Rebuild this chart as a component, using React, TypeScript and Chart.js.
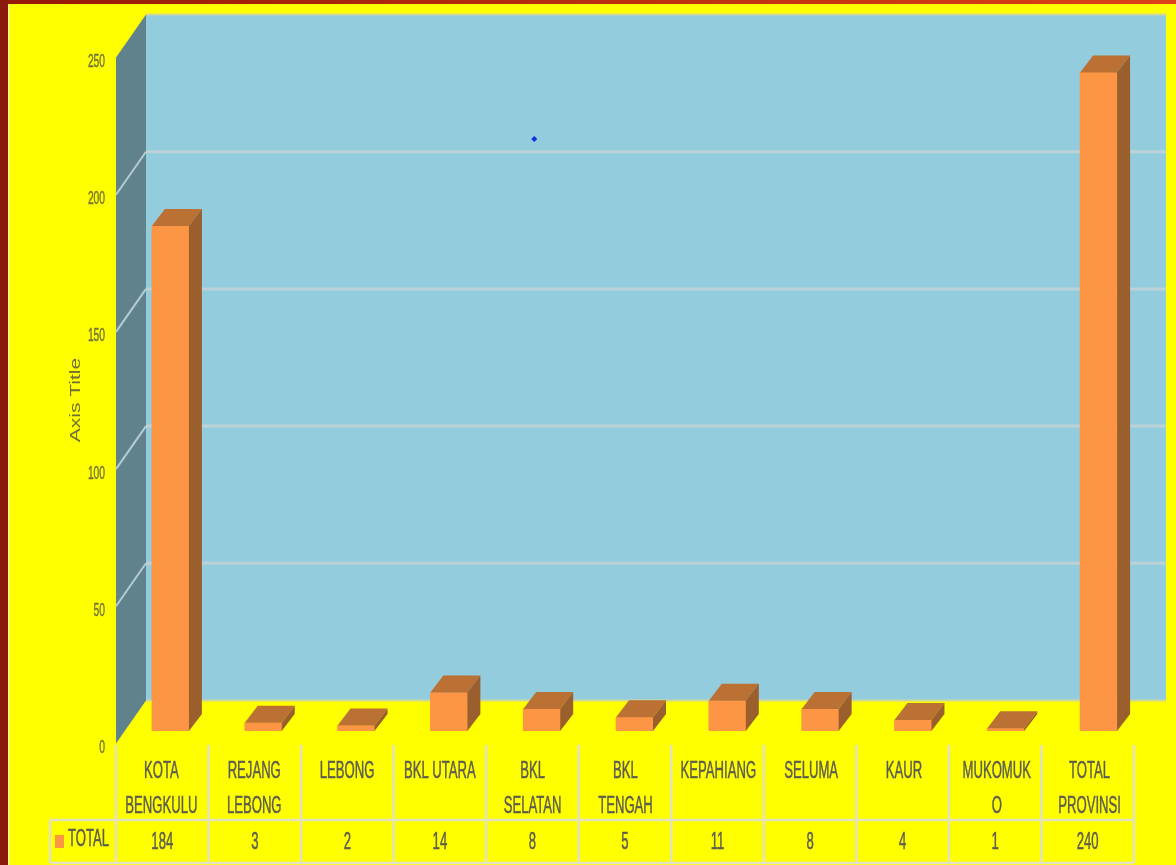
import React, { useEffect, useRef } from "react";
import { Chart, registerables } from "chart.js";

Chart.register(...registerables);

const categories: (string | string[])[] = [
  ["KOTA", "BENGKULU"], ["REJANG", "LEBONG"], "LEBONG", "BKL UTARA", ["BKL", "SELATAN"],
  ["BKL", "TENGAH"], "KEPAHIANG", "SELUMA", "KAUR", ["MUKOMUK", "O"], ["TOTAL", "PROVINSI"],
];
const totals = [184, 3, 2, 14, 8, 5, 11, 8, 4, 1, 240];
const seriesName = "TOTAL";
const strayPoint = [{ x: 4.42, y: 215.7 }];
const yTicks = [0, 50, 100, 150, 200, 250];
const axisTitle = "Axis Title";

const FONT = '"Liberation Sans", sans-serif';
const SQUEEZE = 0.57;
const DEPTH_Y = 43;
const BAR_DX = 13, BAR_DY = 17;

function poly(ctx: CanvasRenderingContext2D, pts: number[][], fill: string) {
  ctx.beginPath();
  pts.forEach((p, i) => (i ? ctx.lineTo(p[0], p[1]) : ctx.moveTo(p[0], p[1])));
  ctx.closePath();
  ctx.fillStyle = fill;
  ctx.fill();
}

// The reference's lettering is squeezed sideways and heavy; every label is narrowed about its own anchor.
function squeezeText(ctx: any) {
  const raw = ctx.fillText.bind(ctx);
  const rawStroke = ctx.strokeText.bind(ctx);
  ctx.rawFillText = raw;
  ctx.fillText = (t: string, x: number, y: number) => {
    ctx.save();
    ctx.translate(x, y);
    ctx.scale(SQUEEZE, 1);
    raw(t, 0, 0);
    ctx.strokeStyle = ctx.fillStyle;
    ctx.lineWidth = 0.5;
    rawStroke(t, 0, 0);
    ctx.restore();
  };
}

const scene3d = {
  id: "scene3d",
  beforeDraw(chart: any) {
    const { ctx, width, height } = chart;
    if (!ctx.rawFillText) squeezeText(ctx);
    ctx.save();
    ctx.fillStyle = "#ffff00";
    ctx.fillRect(0, 0, width, height);
    const top = ctx.createLinearGradient(0, 0, width, 0);
    top.addColorStop(0, "#941a08");
    top.addColorStop(1, "#dc4218");
    ctx.fillStyle = top;
    ctx.fillRect(0, 0, width, 4);
    ctx.fillStyle = "#8c1a0a";
    ctx.fillRect(0, 0, 8, height);
    ctx.fillStyle = "#f4f4d0";
    ctx.fillRect(8, 4, 1, height);
    ctx.restore();
  },
  beforeDatasetsDraw(chart: any) {
    const { ctx } = chart;
    const y = chart.scales.y;
    const frontX = 116, backL = 146, backR = 1166;
    const front = (v: number) => y.getPixelForValue(v) + 12.5;
    const back = (v: number) => front(v) - DEPTH_Y;
    ctx.save();
    poly(ctx, [[frontX, front(0)], [backL, back(0)], [backL, back(250)], [frontX, front(250)]], "#5f828c");
    ctx.fillStyle = "#93ccdd";
    ctx.fillRect(backL, back(250), backR - backL, back(0) - back(250));
    yTicks.slice(1, -1).forEach((v) => {
      ctx.strokeStyle = "#b4ccd2";
      ctx.lineWidth = 2;
      ctx.beginPath();
      ctx.moveTo(frontX, front(v));
      ctx.lineTo(backL, back(v));
      ctx.stroke();
      ctx.strokeStyle = "#bcd2d8";
      ctx.lineWidth = 3;
      ctx.beginPath();
      ctx.moveTo(backL, back(v));
      ctx.lineTo(backR, back(v));
      ctx.stroke();
    });
    ctx.strokeStyle = "#cfd79a";
    ctx.lineWidth = 2;
    ctx.beginPath();
    ctx.moveTo(backL, back(250));
    ctx.lineTo(backR, back(250));
    ctx.moveTo(backL, back(0));
    ctx.lineTo(backR, back(0));
    ctx.stroke();
    ctx.restore();
  },
  afterDatasetsDraw(chart: any) {
    const { ctx } = chart;
    ctx.save();
    chart.getDatasetMeta(0).data.forEach((bar: any) => {
      const { x, y, base, width } = bar.getProps(["x", "y", "base", "width"], true);
      const l = x - width / 2, r = x + width / 2;
      poly(ctx, [[l, y], [r, y], [r + BAR_DX, y - BAR_DY], [l + BAR_DX, y - BAR_DY]], "#bb7133");
      poly(ctx, [[r, y], [r + BAR_DX, y - BAR_DY], [r + BAR_DX, base - BAR_DY], [r, base]], "#9a5f2c");
    });
    ctx.restore();
  },
  afterDraw(chart: any) {
    const { ctx } = chart;
    const left = 116, right = 1134, headTop = 745, rowTop = 820, rowBottom = 863, boxLeft = 50;
    const step = (right - left) / totals.length;
    ctx.save();
    ctx.strokeStyle = "#e2e2c0";
    ctx.lineWidth = 2.5;
    for (let i = 0; i <= totals.length; i++) {
      const x = left + i * step;
      ctx.beginPath();
      ctx.moveTo(x, headTop);
      ctx.lineTo(x, rowBottom);
      ctx.stroke();
    }
    ctx.beginPath();
    ctx.moveTo(boxLeft, rowTop);
    ctx.lineTo(right, rowTop);
    ctx.moveTo(boxLeft, rowBottom);
    ctx.lineTo(right, rowBottom);
    ctx.moveTo(boxLeft, rowTop);
    ctx.lineTo(boxLeft, rowBottom);
    ctx.stroke();

    ctx.fillStyle = "#fd9644";
    ctx.fillRect(55, 835, 9, 13);
    ctx.fillStyle = "#5c5c50";
    ctx.font = `23px ${FONT}`;
    ctx.textBaseline = "middle";
    ctx.textAlign = "left";
    ctx.fillText(seriesName, 68, 840);
    ctx.textAlign = "center";
    totals.forEach((v, i) => ctx.fillText(String(v), left + (i + 0.5) * step, 843));

    ctx.translate(76, 400);
    ctx.rotate(-Math.PI / 2);
    ctx.scale(1.4, 1);
    ctx.fillStyle = "#6e6e38";
    ctx.font = `15px ${FONT}`;
    ctx.rawFillText(axisTitle, 0, 0);
    ctx.restore();
  },
};

export default function App() {
  const ref = useRef<HTMLCanvasElement>(null);
  useEffect(() => {
    const chart = new Chart(ref.current!, {
      type: "bar",
      data: {
        labels: categories as any,
        datasets: [
          {
            label: seriesName,
            data: totals,
            backgroundColor: "#fd9644",
            barThickness: 37,
            grouped: false,
            order: 2,
          },
          {
            type: "scatter",
            label: "",
            data: strayPoint,
            xAxisID: "xDot",
            pointStyle: "rectRot",
            pointRadius: 3,
            backgroundColor: "#1030e0",
            borderWidth: 0,
            order: 1,
          } as any,
        ],
      },
      plugins: [scene3d],
      options: {
        responsive: false,
        animation: false,
        devicePixelRatio: 1,
        layout: { padding: { top: 45, right: 31, bottom: 0, left: 0 } },
        plugins: { legend: { display: false }, tooltip: { enabled: false }, title: { display: false } },
        scales: {
          x: {
            offset: true,
            grid: { display: false },
            border: { display: false },
            afterFit: (s: any) => { s.height = 134; },
            ticks: {
              color: "#5c5c50",
              font: { family: FONT, size: 23, lineHeight: 1.52 },
              padding: 15,
              labelOffset: -9,
              maxRotation: 0,
              minRotation: 0,
              autoSkip: false,
            },
          },
          xDot: { type: "linear", display: false, min: 0, max: 11, offset: false },
          y: {
            min: 0,
            max: 250,
            grid: { display: false, drawTicks: false },
            border: { display: false },
            afterFit: (s: any) => { s.width = 124; },
            afterBuildTicks: (s: any) => { s.ticks = yTicks.map((value) => ({ value })); },
            ticks: {
              color: "#76763a",
              font: { family: FONT, size: 18 },
              padding: 19,
              labelOffset: 17,
            },
          },
        },
      },
    } as any);
    return () => chart.destroy();
  }, []);
  return (
    <canvas
      ref={ref}
      width={1176}
      height={865}
      style={{ position: "absolute", left: 0, top: 0, display: "block", width: 1176, height: 865, filter: "blur(0.7px)" }}
    />
  );
}
